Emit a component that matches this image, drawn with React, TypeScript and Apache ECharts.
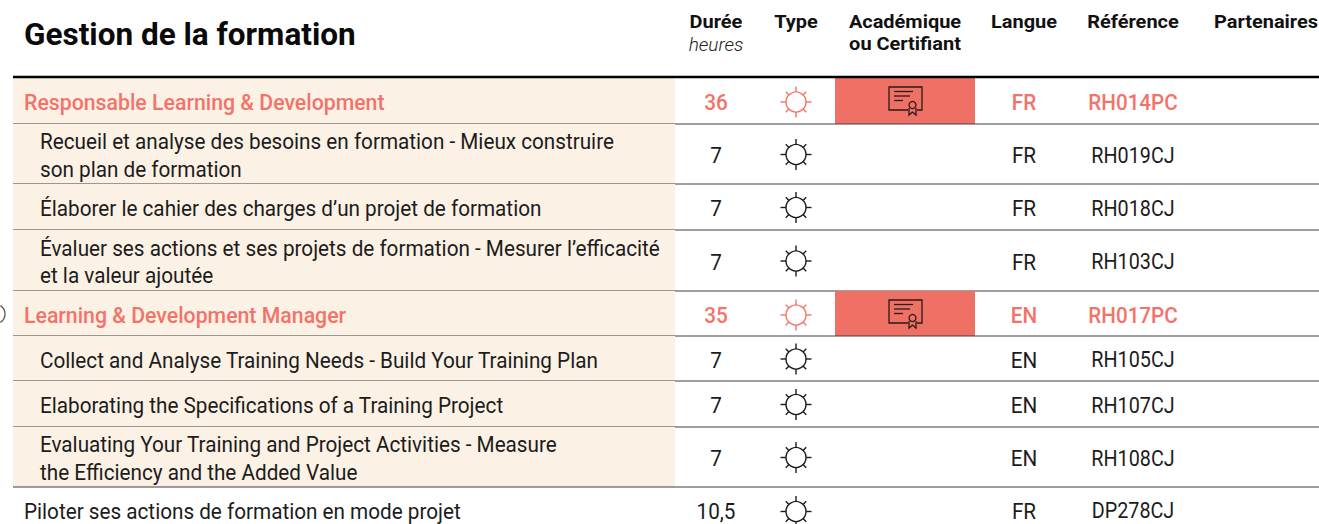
import React, { useEffect, useRef } from "react";
import * as echarts from "echarts";

const chartTitle = "Gestion de la formation";
const headers = [
  ["Durée", "heures"],
  ["Type"],
  ["Académique", "ou Certifiant"],
  ["Langue"],
  ["Référence"],
  ["Partenaires"],
];
const courseLines = [
  ["Responsable Learning & Development"],
  ["Recueil et analyse des besoins en formation - Mieux construire", "son plan de formation"],
  ["Élaborer le cahier des charges d’un projet de formation"],
  ["Évaluer ses actions et ses projets de formation - Mesurer l’efficacité", "et la valeur ajoutée"],
  ["Learning & Development Manager"],
  ["Collect and Analyse Training Needs - Build Your Training Plan"],
  ["Elaborating the Specifications of a Training Project"],
  ["Evaluating Your Training and Project Activities - Measure", "the Efficiency and the Added Value"],
  ["Piloter ses actions de formation en mode projet"],
];
const durations = ["36", "7", "7", "7", "35", "7", "7", "7", "10,5"];
const languages = ["FR", "FR", "FR", "FR", "EN", "EN", "EN", "EN", "FR"];
const references = ["RH014PC", "RH019CJ", "RH018CJ", "RH103CJ", "RH017PC", "RH105CJ", "RH107CJ", "RH108CJ", "DP278CJ"];
const rowKinds = ["cert", "sub", "sub", "sub", "cert", "sub", "sub", "sub", "plain"];

// Layout (pixel-scale value axes)
const rowEdges = [77, 124, 184, 230, 291, 336, 381, 427, 487, 535];
const COL = { dur: 716, type: 796, cert: 905, lang: 1024, ref: 1133, part: 1266 };
const headerCx = [COL.dur, COL.type, COL.cert, COL.lang, COL.ref, COL.part];
const FONT = "Roboto, sans-serif";
const SALMON = "#F3736A";
const CERT_BG = "#EF7166";
const BEIGE = "#FBF1E5";
const INK = "#1c1c1c";
const BODY_SIZE = 21.5;
const BODY_SCALE = 0.963;

function sun(api: any, cx: number, cy: number, color: string) {
  const [x, y] = api.coord([cx, cy]);
  const style = { stroke: color, fill: "none", lineWidth: 1.4 };
  const out: any[] = [{ type: "circle", shape: { cx: x, cy: y, r: 10 }, style }];
  for (let k = 0; k < 8; k++) {
    const a = (k * Math.PI) / 4;
    const outer = k % 2 ? 14.5 : 15.5;
    out.push({
      type: "line",
      shape: { x1: x + Math.cos(a) * 10, y1: y + Math.sin(a) * 10, x2: x + Math.cos(a) * outer, y2: y + Math.sin(a) * outer },
      style,
    });
  }
  return out;
}

function certificate(api: any, cx: number, cy: number) {
  const [x, y] = api.coord([cx, cy]);
  const style = { stroke: "#2a1a18", fill: "none", lineWidth: 1.3 };
  const seg = (x1: number, y1: number, x2: number, y2: number) => ({
    type: "line",
    shape: { x1: x + x1, y1: y + y1, x2: x + x2, y2: y + y2 },
    style,
  });
  return [
    { type: "polyline", shape: { points: [[x + 3, y + 9], [x - 16, y + 9], [x - 16, y - 14], [x + 17, y - 14], [x + 17, y + 9], [x + 12, y + 9]] }, style },
    seg(-11, -9.5, 8, -9.5),
    seg(-11, -5, 5, -5),
    seg(-11, -0.5, -2, -0.5),
    { type: "circle", shape: { cx: x + 7.5, cy: y + 4, r: 3.5 }, style },
    { type: "polyline", shape: { points: [[x + 4, y + 7], [x + 4, y + 14], [x + 7.5, y + 11], [x + 11, y + 14], [x + 11, y + 7]] }, style },
  ];
}

function txt(api: any, s: string, px: number, py: number, align: string, color: string, font: string, scaleX = BODY_SCALE) {
  const [x, y] = api.coord([px, py]);
  return { type: "text", x, y, scaleX, style: { text: s, fill: color, font, textAlign: align, textVerticalAlign: "middle" } };
}

function renderRow(params: any, api: any) {
  const i = api.value(0);
  const top = rowEdges[i];
  const bot = rowEdges[i + 1];
  const mid = (top + bot) / 2;
  const kind = rowKinds[i];
  const cert = kind === "cert";
  const plain = kind === "plain";
  const color = cert ? SALMON : INK;
  const weight = cert ? "500" : "400";
  const font = `${weight} ${BODY_SIZE}px ${FONT}`;
  const [x0, yTop] = api.coord([13, top]);
  const [x1, yBot] = api.coord([675, Math.min(bot, 524)]);
  const children: any[] = [];
  if (!plain) {
    children.push({ type: "rect", shape: { x: x0, y: yTop, width: x1 - x0, height: yBot - yTop }, style: { fill: BEIGE } });
  }
  if (cert) {
    const [cx0] = api.coord([835, 0]);
    const [cx1] = api.coord([975, 0]);
    children.push({ type: "rect", shape: { x: cx0, y: yTop, width: cx1 - cx0, height: yBot - yTop }, style: { fill: CERT_BG } });
    children.push(...certificate(api, COL.cert, mid + 0.5));
  }
  const textX = kind === "sub" ? 40 : 24;
  const lines = courseLines[i];
  const dy = plain ? 0 : 1.5;
  lines.forEach((line, k) => {
    const ly = mid + (cert ? 2 : dy) + (k - (lines.length - 1) / 2) * 27.5;
    children.push(txt(api, line, textX, ly, "left", color, font, cert ? 0.99 : BODY_SCALE));
  });
  children.push(txt(api, durations[i], COL.dur, mid + dy, "center", color, font));
  children.push(...sun(api, COL.type, mid + (cert ? 1.5 : 0.5), color));
  children.push(txt(api, languages[i], COL.lang, mid + dy, "center", color, font));
  children.push(txt(api, references[i], COL.ref, mid + dy, "center", color, font, cert ? 0.96 : 0.92));
  if (i < rowEdges.length - 2) {
    const [lx0, ly] = api.coord([13, bot]);
    const [lx1] = api.coord([1319, bot]);
    children.push({ type: "line", shape: { x1: lx0, y1: ly, x2: lx1, y2: ly }, style: { stroke: "#3f3f3f", lineWidth: 1.2 } });
  }
  return { type: "group", children };
}

function renderHeader(params: any, api: any) {
  const i = api.value(0);
  const children: any[] = headers[i].map((s, k) => {
    const italic = i === 0 && k === 1;
    const font = italic ? `italic 300 19px ${FONT}` : `700 19px ${FONT}`;
    return txt(api, s, headerCx[i], 21.5 + k * 22.5, "center", italic ? "#222" : "#111", font, italic ? 1 : 1.05);
  });
  return { type: "group", children };
}

function renderFrame(params: any, api: any) {
  const [x0, y] = api.coord([13, 77]);
  const [x1] = api.coord([1319, 77]);
  const [ax, ay] = api.coord([-5, 314]);
  return {
    type: "group",
    children: [
      { type: "line", shape: { x1: x0, y1: y, x2: x1, y2: y }, style: { stroke: "#000", lineWidth: 2.6 } },
      { type: "arc", shape: { cx: ax, cy: ay, r: 10, startAngle: -1, endAngle: 1 }, style: { stroke: "#555", fill: "none", lineWidth: 1.3 } },
    ],
  };
}

const option: any = {
  animation: false,
  backgroundColor: "#fff",
  title: {
    text: chartTitle,
    left: 24,
    top: 18,
    padding: 0,
    textStyle: { fontFamily: FONT, fontWeight: 700, fontSize: 31.5, color: "#0a0a0a" },
  },
  grid: { left: 0, right: 0, top: 0, bottom: 0 },
  xAxis: { type: "value", min: 0, max: 1319, show: false },
  yAxis: { type: "value", min: 0, max: 524, inverse: true, show: false },
  series: [
    { type: "custom", clip: false, silent: true, renderItem: renderRow, data: courseLines.map((_, i) => [i]), encode: { x: 0 } },
    { type: "custom", clip: false, silent: true, renderItem: renderFrame, data: [[0]], encode: { x: 0 } },
    { type: "custom", clip: false, silent: true, renderItem: renderHeader, data: headers.map((_, i) => [i]), encode: { x: 0 } },
  ],
};

export default function App() {
  const ref = useRef<HTMLDivElement>(null);
  useEffect(() => {
    const chart = echarts.init(ref.current!, null, { renderer: "svg" });
    chart.setOption(option);
    return () => chart.dispose();
  }, []);
  return <div ref={ref} style={{ position: "fixed", left: 0, top: 0, width: 1319, height: 524 }} />;
}
